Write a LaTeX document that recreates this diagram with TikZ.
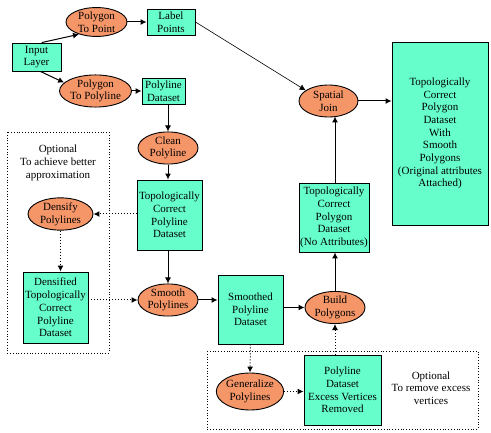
\documentclass[tikz,border=0pt]{standalone}
\usepackage{fontspec}
\setmainfont{Liberation Serif}
\usetikzlibrary{shapes.geometric}
\usepgflibrary{arrows.meta}
\definecolor{dataaqua}{RGB}{102,255,204}
\definecolor{toolorange}{RGB}{245,150,105}
\tikzset{
    dataset/.style={draw,line width=0.9pt,fill=dataaqua,rectangle,inner sep=0pt,align=center,
        font=\fontsize{11}{12.7}\selectfont},
    tool/.style={draw,line width=0.9pt,fill=toolorange,ellipse,inner sep=0pt,align=center,
        font=\fontsize{11}{12.7}\selectfont},
    flow/.style={line width=1pt,-{Latex[length=6pt,width=6pt]}},
    optflow/.style={line width=1pt,dotted,-{Latex[length=6pt,width=6pt]}},
    optframe/.style={line width=0.8pt,dotted},
    note/.style={align=center,font=\fontsize{11}{12.7}\selectfont}
}
\begin{document}
\begin{tikzpicture}[x=1pt,y=-1pt]
        \useasboundingbox (0,0) rectangle (491,433);
        %可选区域框
            \draw [optframe] (7,132) rectangle (109,353);
            \draw [optframe] (207,351) rectangle (478,429);
            \node [note] (optleft) at (58,163) {Optional\\To achieve better\\approximation};
            \node [note] (optright) at (431,388) {Optional\\To remove excess\\vertices};
        %输入与点
            \node [dataset,minimum width=49pt,minimum height=28pt] (inlayer) at (36.5,57) {Input\\Layer};
            \node [tool,minimum width=61pt,minimum height=27pt] (topoint) at (96.5,22) {Polygon\\To Point};
            \node [dataset,minimum width=48pt,minimum height=26pt] (labelpts) at (171,22) {Label\\Points};
            \node [tool,minimum width=57pt,minimum height=29pt] (topolyline) at (95.5,91) {Polygon\\To Polyline};
            \node [dataset,minimum width=43pt,minimum height=26pt] (pldata) at (163.5,91) {Polyline\\Dataset};
        %中间列
            \node [tool,minimum width=60pt,minimum height=30pt] (clean) at (168,148) {Clean\\Polyline};
            \node [dataset,minimum width=65pt,minimum height=70pt] (tcpd) at (169.5,215) {Topologically\\Correct\\Polyline\\Dataset};
            \node [tool,minimum width=65pt,minimum height=32pt] (densify) at (60.5,214) {Densify\\Polylines};
            \node [dataset,minimum width=65pt,minimum height=71pt] (densified) at (55.5,307.5) {Densified\\Topologically\\Correct\\Polyline\\Dataset};
            \node [tool,minimum width=60pt,minimum height=30pt] (smooth) at (168,300) {Smooth\\Polylines};
            \node [dataset,minimum width=65pt,minimum height=69pt] (smoothed) at (250.5,309.5) {Smoothed\\Polyline\\Dataset};
        %右侧
            \node [tool,minimum width=60pt,minimum height=31pt] (build) at (335,307.5) {Build\\Polygons};
            \node [dataset,minimum width=70pt,minimum height=69pt] (tcpoly) at (334,217.5) {Topologically\\Correct\\Polygon\\Dataset\\(No Attributes)};
            \node [tool,minimum width=59pt,minimum height=32pt] (join) at (328.5,101) {Spatial\\Join};
            \node [dataset,minimum width=96pt,minimum height=183pt] (result) at (440,133.5) {Topologically\\Correct\\Polygon\\Dataset\\With\\Smooth\\Polygons\\(Original attributes\\Attached)};
            \node [tool,minimum width=66pt,minimum height=37pt] (generalize) at (250,391.5) {Generalize\\Polylines};
            \node [dataset,minimum width=77pt,minimum height=70pt] (excess) at (342.5,390) {Polyline\\Dataset\\Excess Vertices\\Removed};
        %箭头
            \draw [flow] (inlayer.70) -- (topoint.215);
            \draw [flow] (inlayer.-75) -- (topolyline.165);
            \draw [flow] (topoint.east) -- (labelpts.west);
            \draw [flow] (topolyline.east) -- (pldata.west);
            \draw [flow,line width=0.6pt] (labelpts.east) -- (join.155);
            \draw [flow] (pldata.south -| clean.north) -- (clean.north);
            \draw [flow] (clean.south) -- (clean.south |- tcpd.north);
            \draw [optflow] (tcpd.west |- densify.east) -- (densify.east);
            \draw [optflow] (densify.south) -- (densify.south |- densified.north);
            \draw [optflow] (densified.east |- smooth.west) -- (smooth.west);
            \draw [flow] (tcpd.south -| smooth.north) -- (smooth.north);
            \draw [flow] (smooth.east) -- (smooth.east -| smoothed.west);
            \draw [flow] (smoothed.east |- build.west) -- (build.west);
            \draw [flow] (build.north) -- (build.north |- tcpoly.south);
            \draw [flow] (tcpoly.north -| build.north) -- ([yshift=1pt]join.south -| build.north);
            \draw [flow] (join.east) -- (join.east -| result.west);
            \draw [optflow] (smoothed.south) -- (generalize.north);
            \draw [optflow] (generalize.east) -- (generalize.east -| excess.west);
            \draw [optflow] (excess.north -| build.south) -- (build.south);
    \end{tikzpicture}
\end{document}
